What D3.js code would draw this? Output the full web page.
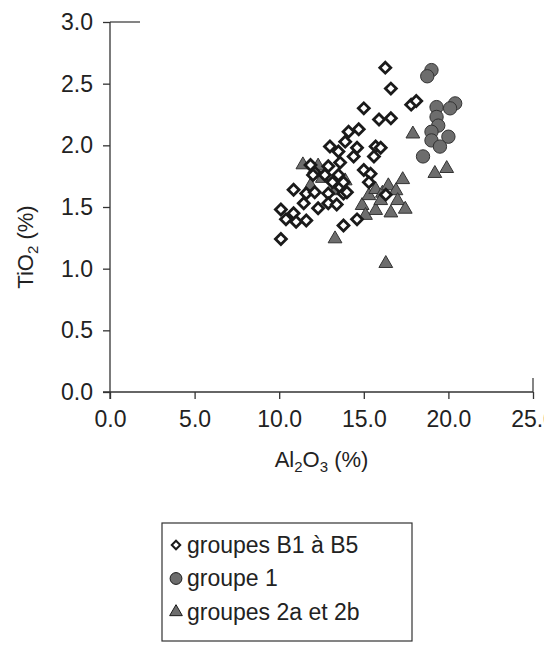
<!DOCTYPE html>
<html>
<head>
<meta charset="utf-8">
<script src="https://cdn.jsdelivr.net/npm/d3@7"></script>
<style>
  body { margin: 0; background: #fff; }
  text { font-family: "Liberation Sans", Arial, sans-serif; fill: #222; }
</style>
</head>
<body>
<div class="canvas"></div>
<script>
// data
const diamondX = [16.27, 16.6, 15.0, 15.9, 16.6, 14.7, 14.1, 13.9, 13.0, 14.6, 15.7, 16.0, 15.6, 14.4, 13.5,
                  13.6, 12.9, 11.85, 12.1, 12.7, 13.5, 15.0, 15.4, 15.3, 10.85, 11.6, 12.1, 12.9, 13.6, 13.8,
                  10.1, 10.1, 11.45, 10.85, 10.4, 11.0, 11.6, 12.3, 12.9, 13.4, 14.0, 13.8, 14.6, 16.3,
                  17.8, 18.1, 13.15, 13.8, 12.0];
const diamondY = [2.63, 2.46, 2.30, 2.21, 2.22, 2.13, 2.11, 2.03, 1.99, 1.98, 1.99, 1.98, 1.91, 1.91, 1.95,
                  1.86, 1.83, 1.84, 1.78, 1.76, 1.76, 1.80, 1.77, 1.70, 1.64, 1.61, 1.62, 1.61, 1.66, 1.61,
                  1.24, 1.48, 1.53, 1.45, 1.40, 1.38, 1.39, 1.49, 1.53, 1.52, 1.62, 1.35, 1.40, 1.60,
                  2.33, 2.36, 1.70, 1.70, 1.76];

const circleX = [19.0, 18.75, 20.4, 20.1, 19.3, 19.3, 19.4, 19.0, 19.0, 20.0, 19.5, 18.5];
const circleY = [2.61, 2.56, 2.34, 2.30, 2.31, 2.23, 2.16, 2.11, 2.04, 2.07, 1.99, 1.91];

const triangleX = [13.3, 16.3, 17.9, 19.2, 19.9,
                   14.9, 15.3, 15.7, 16.1, 16.45, 16.9, 17.3, 17.0, 17.45, 15.7, 16.6, 15.1, 16.0,
                   11.85, 12.55, 13.3, 13.9, 12.3, 11.4];
const triangleY = [1.25, 1.05, 2.10, 1.78, 1.82,
                   1.52, 1.60, 1.65, 1.62, 1.68, 1.64, 1.73, 1.56, 1.49, 1.48, 1.46, 1.44, 1.56,
                   1.68, 1.74, 1.64, 1.72, 1.84, 1.85];

const xTicks = [0, 5, 10, 15, 20, 25];
const yTicks = [0, 0.5, 1, 1.5, 2, 2.5, 3];
const legendLabels = ["groupes B1 à B5", "groupe 1", "groupes 2a et 2b"];

const svg = d3.select(".canvas").append("svg")
    .attr("width", 544)
    .attr("height", 645);

//scales
const x = d3.scaleLinear().domain([0, 25]).range([110, 533]);
const y = d3.scaleLinear().domain([0, 3]).range([392, 22]);

const grey = "#6d6d6d";
const dark = "#333";

//axes
const xAxis = d3.axisBottom(x).tickValues(xTicks).tickFormat(d3.format(".1f")).tickSize(7).tickPadding(12);
const yAxis = d3.axisLeft(y).tickValues(yTicks).tickFormat(d3.format(".1f")).tickSize(7).tickPadding(10);

const gx = svg.append("g").attr("transform", `translate(0, ${y(0)})`).call(xAxis);
const gy = svg.append("g").attr("transform", `translate(${x(0)}, 0)`).call(yAxis);
[gx, gy].forEach(g => {
  g.select(".domain").attr("stroke", dark).attr("stroke-width", 1.3);
  g.selectAll(".tick line").attr("stroke", dark).attr("stroke-width", 1.3);
  g.selectAll(".tick text").attr("font-size", 23).attr("fill", "#222")
    .attr("font-family", "'Liberation Sans', Arial, sans-serif");
});
// extend axis lines so they cross at the origin
gx.select(".domain").attr("d", `M${x(0) - 7},0H${x(25)}`);
gy.select(".domain").attr("d", `M0,${y(0) + 7}V${y(3)}`);
// stubs at the top and right ends
svg.append("line").attr("x1", x(0)).attr("x2", x(0) + 30).attr("y1", y(3)).attr("y2", y(3))
   .attr("stroke", dark).attr("stroke-width", 1.2);
svg.append("line").attr("x1", x(25)).attr("x2", x(25)).attr("y1", y(0)).attr("y2", y(0) - 14)
   .attr("stroke", dark).attr("stroke-width", 1.2);

//axis titles
const xt = svg.append("text").attr("x", (x(0) + x(25)) / 2).attr("y", 467)
    .attr("text-anchor", "middle").attr("font-size", 22);
xt.append("tspan").text("Al");
xt.append("tspan").text("2").attr("font-size", 15).attr("dy", 5);
xt.append("tspan").text("O").attr("dy", -5);
xt.append("tspan").text("3").attr("font-size", 15).attr("dy", 5);
xt.append("tspan").text(" (%)").attr("dy", -5);

const yt = svg.append("text").attr("transform", `translate(33, ${y(1.5) + 40}) rotate(-90)`)
    .attr("text-anchor", "middle").attr("font-size", 22);
yt.append("tspan").text("TiO");
yt.append("tspan").text("2").attr("font-size", 15).attr("dy", 5);
yt.append("tspan").text(" (%)").attr("dy", -5);

//marks
const diamond = d3.symbol().type(d3.symbolSquare).size(60);
const circle = d3.symbol().type(d3.symbolCircle).size(140);
const triangle = d3.symbol().type(d3.symbolTriangle).size(82);

svg.append("g").selectAll("path")
  .data(triangleX.map((d, i) => [d, triangleY[i]]))
  .enter().append("path")
  .attr("d", triangle)
  .attr("transform", d => `translate(${x(d[0])}, ${y(d[1]) + 1})`)
  .attr("fill", grey).attr("stroke", dark).attr("stroke-width", 1);

svg.append("g").selectAll("path")
  .data(diamondX.map((d, i) => [d, diamondY[i]]))
  .enter().append("path")
  .attr("d", diamond)
  .attr("transform", d => `translate(${x(d[0])}, ${y(d[1])}) rotate(45)`)
  .attr("fill", "#fff").attr("stroke", "#1a1a1a").attr("stroke-width", 2.8);

svg.append("g").selectAll("path")
  .data(circleX.map((d, i) => [d, circleY[i]]))
  .enter().append("path")
  .attr("d", circle)
  .attr("transform", d => `translate(${x(d[0])}, ${y(d[1])})`)
  .attr("fill", grey).attr("stroke", dark).attr("stroke-width", 1);

//legend
const legend = svg.append("g");
legend.append("rect").attr("x", 162).attr("y", 523).attr("width", 250).attr("height", 118)
  .attr("fill", "none").attr("stroke", dark).attr("stroke-width", 1.2);

const legendSymbols = [
  {d: d3.symbol().type(d3.symbolSquare).size(36)(), fill: "#fff", sw: 2, rot: 45},
  {d: d3.symbol().type(d3.symbolCircle).size(110)(), fill: grey, sw: 1, rot: 0},
  {d: d3.symbol().type(d3.symbolTriangle).size(70)(), fill: grey, sw: 1, rot: 0}
];
legendLabels.forEach((lab, i) => {
  const cy = 545 + i * 33.5;
  legend.append("path").attr("d", legendSymbols[i].d)
    .attr("transform", `translate(176, ${cy}) rotate(${legendSymbols[i].rot})`)
    .attr("fill", legendSymbols[i].fill).attr("stroke", "#1a1a1a").attr("stroke-width", legendSymbols[i].sw);
  legend.append("text").attr("x", 187).attr("y", cy + 7.5).attr("font-size", 23).text(lab);
});
</script>
</body>
</html>
